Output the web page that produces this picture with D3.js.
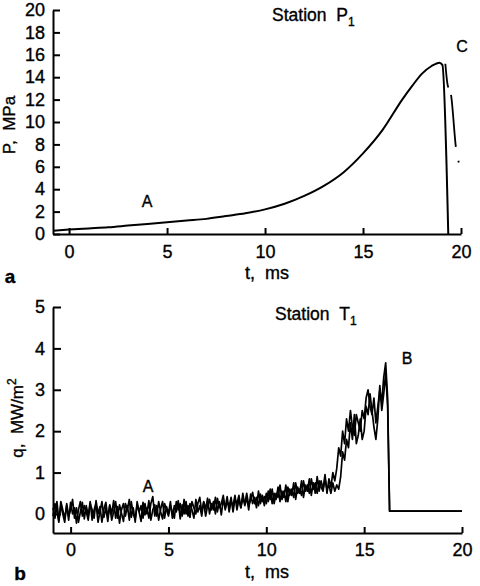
<!DOCTYPE html>
<html>
<head>
<meta charset="utf-8">
<script src="https://cdn.jsdelivr.net/npm/d3@7"></script>
<style>
  body { margin: 0; background: #fff; }
  svg { font-family: "Liberation Sans", Arial, sans-serif; }
  svg text { fill: #000; stroke: #000; stroke-width: 0.35px; }
</style>
</head>
<body>
<script>
// panel a: pressure at station P1
const pTime = [-0.8, 0, 1, 2, 3, 4, 5, 6, 7, 8, 9, 10, 11, 12, 13, 14, 15, 16, 17, 17.5, 18, 18.5, 18.9, 19.05, 19.35];
const pValue = [0.3, 0.4, 0.5, 0.6, 0.75, 0.9, 1.05, 1.2, 1.35, 1.6, 1.85, 2.2, 2.7, 3.4, 4.3, 5.5, 7.2, 9.3, 12.0, 13.2, 14.3, 15.0, 15.3, 15.1, 0];
// second (broken) trace near C
const cTime = [19.2, 19.3, 19.5, 19.75, 19.9];
const cValue = [15.2, 13.5, 12.3, 7.6, 6.3];
const pTicksY = [0, 2, 4, 6, 8, 10, 12, 14, 16, 18, 20];

// panel b: heat flux at station T1, two runs sampled every 0.1 ms from -0.9 ms to 16.2 ms
const qStart = -0.9;
const qStep = 0.1;
const qRun1 = [
  0.15, -0.1, 0.3, -0.15, 0.2, 0.0, -0.2, 0.25, -0.05, 0.1, 0.35, -0.1, 0.15, -0.2, 0.05, 0.28, -0.12, 0.2, -0.05, 0.3,
  -0.15, 0.1, 0.25, -0.2, 0.05, 0.3, -0.08, 0.15, -0.18, 0.22, 0.0, 0.32, -0.1, 0.18, -0.22, 0.1, 0.25, -0.05, 0.2, -0.15,
  0.3, 0.0, -0.12, 0.22, 0.05, -0.18, 0.28, -0.02, 0.15, -0.1, 0.25, 0.42, -0.05, 0.2, -0.15, 0.12, 0.3, -0.1, 0.18, 0.0,
  0.3, -0.1, 0.2, 0.05, 0.32, -0.12, 0.22, 0.0, 0.3, -0.05, 0.25, 0.1, -0.1, 0.35, 0.05, 0.2, -0.05, 0.3, 0.12, 0.38,
  0.0, 0.25, 0.1, 0.4, 0.05, 0.3, -0.02, 0.35, 0.15, 0.42, 0.05, 0.3, 0.2, 0.45, 0.1, 0.35, 0.15, 0.5, 0.2, 0.4,
  0.1, 0.48, 0.25, 0.4, 0.15, 0.55, 0.25, 0.45, 0.2, 0.5,
  0.3, 0.6, 0.25, 0.5, 0.35, 0.65, 0.3, 0.55, 0.4, 0.7, 0.3, 0.6, 0.45, 0.75, 0.35, 0.65, 0.5, 0.8, 0.4, 0.7,
  0.55, 0.85, 0.45, 0.75, 0.5, 0.9, 0.55, 0.8, 0.6, 0.95, 0.5, 0.85, 0.65, 1.0,
  0.8, 1.1, 1.6, 1.4, 2.0, 1.7, 2.3, 2.0, 2.5, 2.1, 1.9, 2.4, 2.2, 2.0, 2.5, 2.3, 2.8, 3.0, 2.6, 2.4,
  2.8, 2.2, 2.6, 3.0, 2.7, 3.3, 3.65, 2.8
];
const qRun2 = [
  -0.05, 0.25, 0.05, -0.2, 0.3, 0.1, -0.1, 0.2, -0.15, 0.28, 0.0, 0.15, -0.22, 0.1, 0.3, -0.05, 0.2, 0.05, -0.15, 0.25,
  0.1, -0.1, 0.32, 0.0, 0.18, -0.2, 0.12, 0.28, -0.08, 0.2, -0.15, 0.05, 0.3, -0.1, 0.22, 0.02, -0.18, 0.25, 0.1, 0.35,
  -0.08, 0.15, -0.2, 0.3, 0.05, 0.2, -0.1, 0.25, 0.0, 0.32, -0.15, 0.1, 0.22, -0.05, 0.3, 0.05, -0.12, 0.25, 0.1, -0.05,
  0.2, 0.05, -0.1, 0.3, 0.1, 0.25, -0.05, 0.35, 0.0, 0.2, -0.08, 0.3, 0.15, 0.0, 0.25, 0.4, 0.05, 0.28, -0.05, 0.2,
  0.35, 0.1, 0.3, 0.0, 0.38, 0.15, 0.25, 0.45, 0.1, 0.3, 0.18, 0.4, 0.05, 0.35, 0.25, 0.45, 0.15, 0.38, 0.25, 0.5,
  0.2, 0.35, 0.52, 0.25, 0.4, 0.2, 0.48, 0.3, 0.42, 0.25,
  0.55, 0.35, 0.6, 0.25, 0.5, 0.4, 0.7, 0.35, 0.55, 0.3, 0.65, 0.45, 0.6, 0.4, 0.75, 0.5, 0.6, 0.45, 0.8, 0.55,
  0.7, 0.5, 0.85, 0.6, 0.75, 0.5, 0.8, 0.65, 0.55, 0.85, 0.6, 0.7, 0.5, 0.75,
  0.55, 0.7, 0.6, 0.9, 1.5, 1.3, 1.8, 1.6, 2.2, 1.8, 2.4, 1.7, 1.9, 2.3, 1.8, 2.0, 2.6, 2.4, 2.9, 2.5,
  2.1, 1.8, 2.3, 3.1, 2.5, 2.9, 3.4, 2.6
];
// after the drop both runs sit on the same flat line
const qTailTime = [16.3, 20];
const qTailValue = [0.07, 0.07];
const qTicksY = [0, 1, 2, 3, 4, 5];
const tTicks = [0, 5, 10, 15, 20];

const width = 480;
const height = 586;

const svg = d3
  .select("body")
  .append("svg")
  .attr("width", width)
  .attr("height", height);

// ---------- panel a ----------
const xA = d3.scaleLinear().domain([-0.82, 20]).range([53, 461]);
const yA = d3.scaleLinear().domain([0, 20]).range([234, 10]);

const gA = svg.append("g");

gA.append("g")
  .attr("transform", "translate(0,234)")
  .call(d3.axisBottom(xA).tickValues(tTicks).tickSize(-6).tickSizeOuter(0).tickPadding(11));

gA.append("g")
  .attr("transform", "translate(53,0)")
  .call(d3.axisLeft(yA).tickValues(pTicksY).tickSize(-7).tickSizeOuter(0).tickPadding(8));

const pData = pTime.map((t, i) => [t, pValue[i]]);
gA.append("path")
  .datum(pData)
  .attr("fill", "none")
  .attr("stroke", "#000")
  .attr("stroke-width", 2)
  .attr("d", d3.line().x((d) => xA(d[0])).y((d) => yA(d[1])).curve(d3.curveMonotoneX));

const cData = cTime.map((t, i) => [t, cValue[i]]);
gA.append("path")
  .datum(cData)
  .attr("fill", "none")
  .attr("stroke", "#000")
  .attr("stroke-width", 1.8)
  .attr("stroke-dasharray", "24,8,52,14,2,20")
  .attr("d", d3.line().x((d) => xA(d[0])).y((d) => yA(d[1])).curve(d3.curveMonotoneX));

// ---------- panel b ----------
const xB = d3.scaleLinear().domain([-0.9, 20]).range([53, 462]);
const yB = d3.scaleLinear().domain([-0.46, 5]).range([533, 307]);

const gB = svg.append("g");

gB.append("g")
  .attr("transform", "translate(0,533)")
  .call(d3.axisBottom(xB).tickValues(tTicks).tickSize(-6).tickSizeOuter(0).tickPadding(10));

gB.append("g")
  .attr("transform", "translate(53,0)")
  .call(d3.axisLeft(yB).tickValues(qTicksY).tickFormat(d3.format("d")).tickSize(-8).tickSizeOuter(0).tickPadding(8));

const qLine = d3.line().x((d) => xB(d[0])).y((d) => yB(d[1]));
[qRun1, qRun2].forEach((run) => {
  const pts = run.map((q, i) => [qStart + i * qStep, q]);
  qTailTime.forEach((t, i) => pts.push([t, qTailValue[i]]));
  gB.append("path")
    .datum(pts)
    .attr("fill", "none")
    .attr("stroke", "#000")
    .attr("stroke-width", 1.7)
    .attr("stroke-linejoin", "round")
    .attr("d", qLine);
});

// ---------- axis styling ----------
svg.selectAll(".domain, .tick line")
  .attr("stroke", "#000")
  .attr("stroke-width", 2);
svg.selectAll(".tick text")
  .style("font-size", "18px");

// ---------- texts ----------
const label = (x, y, txt, size, weight) =>
  svg.append("text")
    .attr("x", x)
    .attr("y", y)
    .attr("text-anchor", "middle")
    .style("font-size", size + "px")
    .style("font-weight", weight || "normal")
    .text(txt);

label(267, 279, "t,\u00a0\u00a0ms", 18);
label(267, 578, "t,\u00a0\u00a0ms", 18);
label(147, 207, "A", 16);
label(148, 492, "A", 16);
label(462, 52, "C", 16);
label(407, 364, "B", 16);
label(10, 283, "a", 19, "bold");
label(20, 580, "b", 19, "bold");

const tA = svg.append("text").attr("x", 272).attr("y", 21).style("font-size", "17.5px");
tA.append("tspan").text("Station\u00a0\u00a0P");
tA.append("tspan").attr("dy", 5).style("font-size", "12px").text("1");

const tB = svg.append("text").attr("x", 275).attr("y", 320).style("font-size", "17.5px");
tB.append("tspan").text("Station\u00a0\u00a0T");
tB.append("tspan").attr("dy", 5).style("font-size", "12px").text("1");

svg.append("text")
  .attr("transform", "translate(15,125) rotate(-90)")
  .attr("text-anchor", "middle")
  .style("font-size", "17px")
  .text("P,\u00a0\u00a0MPa");

const yb = svg.append("text")
  .attr("transform", "translate(23,418) rotate(-90)")
  .attr("text-anchor", "middle")
  .style("font-size", "17px");
yb.append("tspan").text("q,\u00a0\u00a0MW/m");
yb.append("tspan").attr("dy", -7).style("font-size", "12px").text("2");
</script>
</body>
</html>
